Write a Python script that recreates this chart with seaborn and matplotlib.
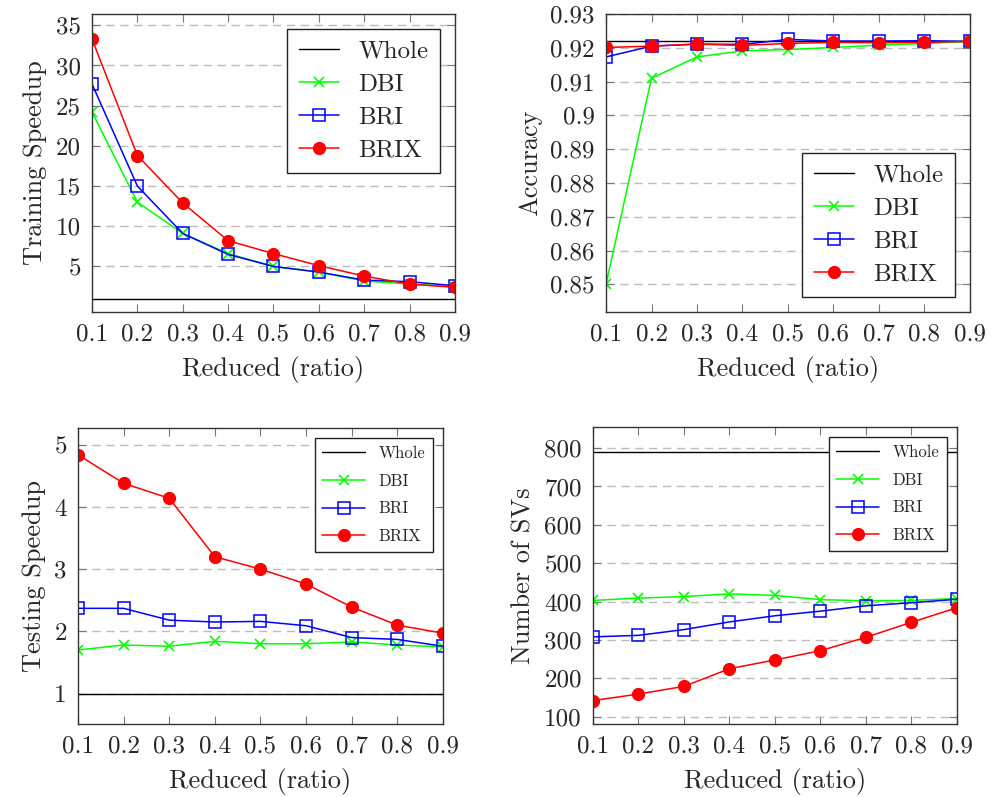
import numpy as np
import pandas as pd
import matplotlib
matplotlib.use("Agg")
import matplotlib.pyplot as plt
import matplotlib.ticker as mticker
import seaborn as sns

# du lieu doc tu hinh
ratios = [0.1, 0.2, 0.3, 0.4, 0.5, 0.6, 0.7, 0.8, 0.9]

train_whole = [1] * 9
train_dbi = [24.2, 13.0, 9.1, 6.6, 5.0, 4.3, 3.2, 2.8, 2.5]
train_bri = [27.7, 15.0, 9.1, 6.5, 5.0, 4.3, 3.3, 3.1, 2.6]
train_brix = [33.3, 18.8, 12.9, 8.2, 6.6, 5.1, 3.8, 2.8, 2.4]

acc_whole = [0.9221] * 9
acc_dbi = [0.850, 0.911, 0.9173, 0.9191, 0.9195, 0.9201, 0.9208, 0.9213, 0.9219]
acc_bri = [0.9173, 0.9205, 0.9211, 0.9210, 0.9225, 0.9220, 0.9220, 0.9221, 0.9219]
acc_brix = [0.9201, 0.9205, 0.9211, 0.9207, 0.9213, 0.9216, 0.9215, 0.9216, 0.9219]

test_whole = [1] * 9
test_dbi = [1.70, 1.78, 1.76, 1.84, 1.80, 1.80, 1.83, 1.78, 1.75]
test_bri = [2.37, 2.37, 2.18, 2.15, 2.16, 2.09, 1.90, 1.87, 1.76]
test_brix = [4.84, 4.38, 4.14, 3.20, 3.00, 2.76, 2.39, 2.10, 1.97]

sv_whole = [791] * 9
sv_dbi = [403, 409, 413, 420, 416, 405, 402, 403, 408]
sv_bri = [308, 312, 327, 347, 363, 375, 389, 397, 406]
sv_brix = [142, 159, 179, 225, 248, 272, 307, 346, 384]

ylabels = ["Training Speedup", "Accuracy", "Testing Speedup", "Number of SVs"]

sns.set_style("ticks")
plt.rcParams["font.family"] = ["cmr10", "DejaVu Serif"]
plt.rcParams["mathtext.fontset"] = "cm"
plt.rcParams["axes.formatter.use_mathtext"] = True

fig = plt.figure(figsize=(10.01, 7.97), dpi=100)

# vi tri cac o ve (tinh theo pixel cua hinh goc)
positions = [
    [0.0919, 0.6085, 0.3626, 0.3739],
    [0.6054, 0.6085, 0.3636, 0.3739],
    [0.0779, 0.0916, 0.3646, 0.3714],
    [0.5924, 0.0916, 0.3636, 0.3727],
]
panels = [
    (train_whole, train_dbi, train_bri, train_brix),
    (acc_whole, acc_dbi, acc_bri, acc_brix),
    (test_whole, test_dbi, test_bri, test_brix),
    (sv_whole, sv_dbi, sv_bri, sv_brix),
]
ylims = [(-0.67, 36.4), (0.8418, 0.930), (0.51, 5.27), (81, 855)]
yticks = [np.arange(5, 36, 5), np.arange(0.85, 0.9301, 0.01),
          np.arange(1, 6, 1), np.arange(100, 801, 100)]
legend_loc = ["upper right", "lower right", "upper right", "upper right"]
legend_size = [18, 18, 12, 12]
legend_hl = [1.6, 1.6, 2.6, 2.6]
legend_ls = [0.42, 0.42, 0.75, 0.75]
green, blue, red = (0, 1, 0), (0, 0, 1), (1, 0, 0)

for i in range(4):
    ax = fig.add_axes(positions[i])
    whole, dbi, bri, brix = panels[i]
    sns.lineplot(x=ratios, y=whole, ax=ax, color="black", lw=1.0, label="Whole")
    sns.lineplot(x=ratios, y=dbi, ax=ax, color=green, lw=1.1, marker="x",
                 markersize=7, markeredgecolor=green, markeredgewidth=1.2, label="DBI")
    sns.lineplot(x=ratios, y=bri, ax=ax, color=blue, lw=1.1, marker="s",
                 markersize=8.5, markerfacecolor="none", markeredgecolor=blue,
                 markeredgewidth=1.1, label="BRI")
    sns.lineplot(x=ratios, y=brix, ax=ax, color=red, lw=1.1, marker="o",
                 markersize=8.5, markeredgecolor=red, markeredgewidth=1.0, label="BRIX")

    ax.set_xlim(0.1, 0.9)
    ax.set_ylim(*ylims[i])
    ax.set_xticks(ratios)
    ax.set_xticklabels([f"{r:g}" for r in ratios])
    ax.set_yticks(yticks[i])
    ax.yaxis.set_major_formatter(mticker.FuncFormatter(lambda v, p: f"{round(v, 4):g}"))
    ax.yaxis.grid(True, color="#bbbbbb", ls=(0, (6, 4)), lw=1.0)
    ax.set_axisbelow(True)
    ax.tick_params(direction="in", top=True, right=True, length=6, width=0.8,
                   color="#777777", labelsize=18, pad=8)
    for s in ax.spines.values():
        s.set_color("#333333")
        s.set_linewidth(1.0)
    ax.set_xlabel("Reduced (ratio)", fontsize=19, labelpad=8)
    ax.set_ylabel(ylabels[i], fontsize=19, labelpad=6)

    leg = ax.legend(loc=legend_loc[i], fontsize=legend_size[i], frameon=True,
                    fancybox=False, edgecolor="#222222", framealpha=1,
                    handlelength=legend_hl[i], borderpad=0.45,
                    labelspacing=legend_ls[i], borderaxespad=0.6)
    leg.get_frame().set_linewidth(1.0)

plt.savefig("out.png", dpi=100)
